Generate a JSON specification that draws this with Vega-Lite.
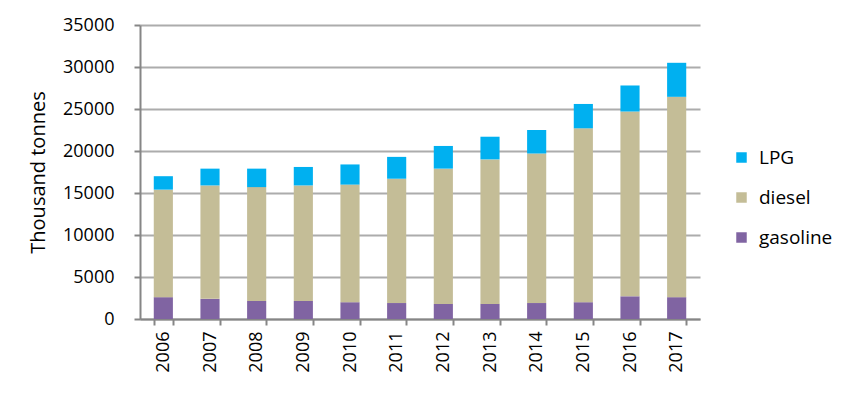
{
  "$schema": "https://vega.github.io/schema/vega-lite/v6.json",
  "width": 560,
  "height": 294,
  "autosize": {"type": "none"},
  "padding": {"left": 140, "top": 25, "right": 151, "bottom": 76},
  "background": "white",
  "data": {
    "values": [
      {"year": "2006", "fuel": "gasoline", "value": 2600},
      {"year": "2006", "fuel": "diesel", "value": 12800},
      {"year": "2006", "fuel": "LPG", "value": 1600},
      {"year": "2007", "fuel": "gasoline", "value": 2400},
      {"year": "2007", "fuel": "diesel", "value": 13500},
      {"year": "2007", "fuel": "LPG", "value": 2000},
      {"year": "2008", "fuel": "gasoline", "value": 2150},
      {"year": "2008", "fuel": "diesel", "value": 13550},
      {"year": "2008", "fuel": "LPG", "value": 2200},
      {"year": "2009", "fuel": "gasoline", "value": 2150},
      {"year": "2009", "fuel": "diesel", "value": 13750},
      {"year": "2009", "fuel": "LPG", "value": 2200},
      {"year": "2010", "fuel": "gasoline", "value": 2000},
      {"year": "2010", "fuel": "diesel", "value": 14000},
      {"year": "2010", "fuel": "LPG", "value": 2400},
      {"year": "2011", "fuel": "gasoline", "value": 1900},
      {"year": "2011", "fuel": "diesel", "value": 14800},
      {"year": "2011", "fuel": "LPG", "value": 2600},
      {"year": "2012", "fuel": "gasoline", "value": 1800},
      {"year": "2012", "fuel": "diesel", "value": 16100},
      {"year": "2012", "fuel": "LPG", "value": 2700},
      {"year": "2013", "fuel": "gasoline", "value": 1800},
      {"year": "2013", "fuel": "diesel", "value": 17200},
      {"year": "2013", "fuel": "LPG", "value": 2700},
      {"year": "2014", "fuel": "gasoline", "value": 1900},
      {"year": "2014", "fuel": "diesel", "value": 17800},
      {"year": "2014", "fuel": "LPG", "value": 2800},
      {"year": "2015", "fuel": "gasoline", "value": 2000},
      {"year": "2015", "fuel": "diesel", "value": 20700},
      {"year": "2015", "fuel": "LPG", "value": 2900},
      {"year": "2016", "fuel": "gasoline", "value": 2700},
      {"year": "2016", "fuel": "diesel", "value": 22000},
      {"year": "2016", "fuel": "LPG", "value": 3100},
      {"year": "2017", "fuel": "gasoline", "value": 2600},
      {"year": "2017", "fuel": "diesel", "value": 23850},
      {"year": "2017", "fuel": "LPG", "value": 4050}
    ]
  },
  "mark": {"type": "bar"},
  "encoding": {
    "x": {
      "field": "year",
      "type": "ordinal",
      "title": null,
      "scale": {"paddingInner": 0.59, "paddingOuter": 0.295},
      "axis": {
        "labelAngle": -90,
        "labelAlign": "right",
        "labelBaseline": "middle",
        "labelFontSize": 18,
        "labelFont": "Open Sans",
        "labelColor": "black",
        "labelPadding": 6,
        "domainColor": "#868686",
        "domainWidth": 2,
        "tickColor": "#868686",
        "tickWidth": 2,
        "tickSize": 6,
        "tickBand": "extent",
        "grid": false
      }
    },
    "y": {
      "field": "value",
      "type": "quantitative",
      "stack": "zero",
      "title": "Thousand tonnes",
      "scale": {"domain": [0, 35000], "nice": false},
      "axis": {
        "values": [0, 5000, 10000, 15000, 20000, 25000, 30000, 35000],
        "format": "d",
        "labelFontSize": 18,
        "labelFont": "Open Sans",
        "labelColor": "black",
        "labelPadding": 20,
        "titleFont": "Open Sans",
        "titleFontSize": 20,
        "titleFontWeight": "normal",
        "titleColor": "black",
        "titlePadding": 14,
        "domainColor": "#868686",
        "domainWidth": 2,
        "tickColor": "#868686",
        "tickWidth": 2,
        "tickSize": 6,
        "gridColor": "#acacac",
        "gridWidth": 2
      }
    },
    "color": {
      "field": "fuel",
      "type": "nominal",
      "scale": {
        "domain": ["LPG", "diesel", "gasoline"],
        "range": ["#00B0F0", "#C4BD97", "#8064A2"]
      },
      "legend": {
        "title": null,
        "orient": "none",
        "legendX": 592,
        "legendY": 123,
        "symbolType": "square",
        "symbolSize": 110,
        "symbolStrokeWidth": 0,
        "labelFont": "Open Sans",
        "labelFontSize": 19,
        "labelColor": "black",
        "rowPadding": 20,
        "labelOffset": 8
      }
    },
    "order": {"field": "fuel", "sort": "descending"}
  },
  "config": {"view": {"stroke": null}}
}
